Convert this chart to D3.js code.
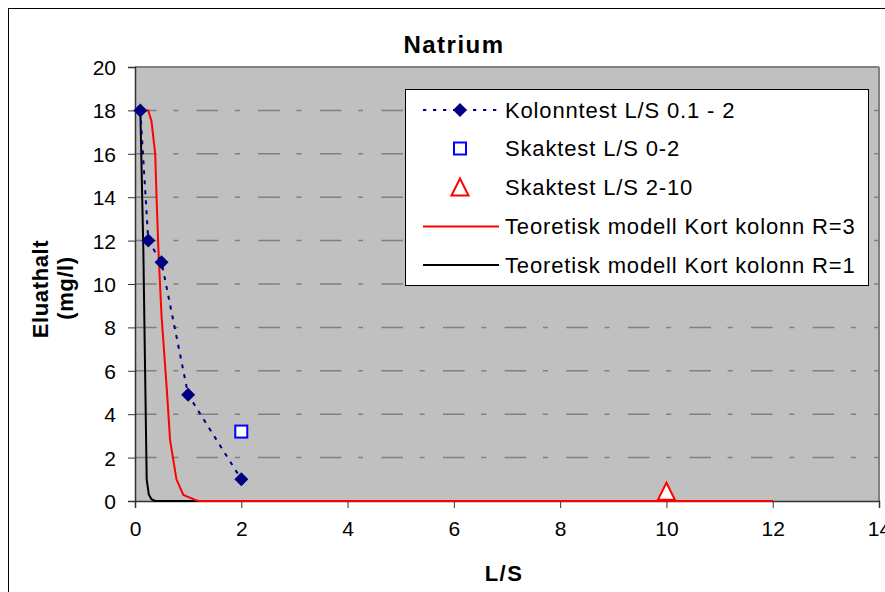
<!DOCTYPE html>
<html><head><meta charset="utf-8">
<script src="https://cdn.jsdelivr.net/npm/d3@7"></script>
<style>
html,body{margin:0;padding:0;background:#fff;}
svg{display:block;font-family:"Liberation Sans",Arial,sans-serif;}
</style></head>
<body>
<svg id="chart" width="885" height="592"></svg>
<script>
// ---- data ----
const title = "Natrium";
const xTicks = [0, 2, 4, 6, 8, 10, 12, 14];
const yTicks = [0, 2, 4, 6, 8, 10, 12, 14, 16, 18, 20];
const kolonnX = [0.1, 0.25, 0.5, 1, 2];
const kolonnY = [18, 12, 11, 4.9, 1];
const skak02X = [2];
const skak02Y = [3.2];
const skak210X = [10];
const skak210Y = [0.45];
const modelR3X = [0.1, 0.25, 0.31, 0.38, 0.41, 0.44, 0.5, 0.6, 0.66, 0.78, 0.91, 1.13, 1.2, 12];
const modelR3Y = [18, 18, 17.5, 16, 13.7, 11.6, 8.5, 5.1, 2.8, 1.0, 0.28, 0.05, 0, 0];
const modelR1X = [0.1, 0.13, 0.157, 0.19, 0.22, 0.26, 0.31, 0.38, 12];
const modelR1Y = [18, 14.6, 11.6, 6, 1.0, 0.3, 0.08, 0, 0];
const legendLabels = ["Kolonntest L/S 0.1 - 2", "Skaktest L/S 0-2", "Skaktest L/S 2-10",
  "Teoretisk modell Kort kolonn R=3", "Teoretisk modell Kort kolonn R=1"];
const xTitle = "L/S";
const yTitleLines = ["Eluathalt", "(mg/l)"];

const svg = d3.select("#chart");
const L = 135, R = 879, T = 67, B = 501;
const x = d3.scaleLinear().domain([0, 14]).range([L, R]);
const y = d3.scaleLinear().domain([0, 20]).range([B, T]);

svg.append("rect").attr("width", 885).attr("height", 592).attr("fill", "#fff");
svg.append("rect").attr("x", 8.5).attr("y", 8.5).attr("width", 900).attr("height", 600)
  .attr("fill", "none").attr("stroke", "#000").attr("stroke-width", 1);

// plot background
svg.append("rect").attr("x", L).attr("y", T).attr("width", R - L).attr("height", B - T).attr("fill", "#C0C0C0");

// gridlines
svg.append("g").selectAll("line").data(yTicks.filter(d => d > 0 && d < 20)).join("line")
  .attr("x1", L).attr("x2", R).attr("y1", d => y(d)).attr("y2", d => y(d))
  .attr("stroke", "#808080").attr("stroke-width", 1.5)
  .attr("stroke-dasharray", "21.6,16.7,5,18.3");

// top & right border
svg.append("line").attr("x1", L).attr("x2", R).attr("y1", T).attr("y2", T).attr("stroke", "#808080").attr("stroke-width", 2);
svg.append("line").attr("x1", R).attr("x2", R).attr("y1", T).attr("y2", B).attr("stroke", "#808080").attr("stroke-width", 2);

// axes
const yAxis = d3.axisLeft(y).tickValues(yTicks).tickSize(7).tickPadding(12);
const gy = svg.append("g").attr("transform", `translate(${L},0)`).call(yAxis);
const xAxis = d3.axisBottom(x).tickValues(xTicks).tickSize(7).tickPadding(13);
const gx = svg.append("g").attr("transform", `translate(0,${B})`).call(xAxis);
[gx, gy].forEach(g => {
  g.select(".domain").attr("stroke", "#333").attr("stroke-width", 1.5);
  g.selectAll(".tick line").attr("stroke", "#333");
  g.selectAll("text").attr("font-size", 21).attr("fill", "#000").attr("font-family", "Liberation Sans, Arial, sans-serif");
});
gy.selectAll(".tick text").attr("dy", "0.36em");
gx.selectAll(".tick text").attr("dy", "0.71em");

// clip
svg.append("clipPath").attr("id", "clip").append("rect").attr("x", L - 10).attr("y", T - 10).attr("width", R - L + 20).attr("height", B - T + 20);
const plot = svg.append("g").attr("clip-path", "url(#clip)");

const line = d3.line().x(d => x(d[0])).y(d => y(d[1]));
const zip = (a, b) => a.map((v, i) => [v, b[i]]);

plot.append("path").datum(zip(modelR1X, modelR1Y)).attr("d", line)
  .attr("fill", "none").attr("stroke", "#000").attr("stroke-width", 2);
plot.append("path").datum(zip(modelR3X, modelR3Y)).attr("d", line)
  .attr("fill", "none").attr("stroke", "#FF0000").attr("stroke-width", 2);
plot.append("path").datum(zip(kolonnX, kolonnY)).attr("d", line)
  .attr("fill", "none").attr("stroke", "#000080").attr("stroke-width", 2).attr("stroke-dasharray", "4,6");

const diamond = "M0,-7L7,0L0,7L-7,0Z";
const tri = "M0,-8.5L8.5,8.5L-8.5,8.5Z";
plot.selectAll(".dia").data(zip(kolonnX, kolonnY)).join("path").attr("class", "dia")
  .attr("transform", d => `translate(${x(d[0])},${y(d[1])})`).attr("d", diamond).attr("fill", "#000080");
plot.selectAll(".sq").data(zip(skak02X, skak02Y)).join("rect").attr("class", "sq")
  .attr("x", d => x(d[0]) - 6).attr("y", d => y(d[1]) - 6).attr("width", 12).attr("height", 12)
  .attr("fill", "#fff").attr("stroke", "#0000FF").attr("stroke-width", 2);
plot.selectAll(".tri").data(zip(skak210X, skak210Y)).join("path").attr("class", "tri")
  .attr("transform", d => `translate(${x(d[0])},${y(d[1])})`).attr("d", tri)
  .attr("fill", "#fff").attr("stroke", "#FF0000").attr("stroke-width", 2);

// legend
const lg = svg.append("g");
lg.append("rect").attr("x", 405.5).attr("y", 89.5).attr("width", 463).attr("height", 196)
  .attr("fill", "#fff").attr("stroke", "#000").attr("stroke-width", 1);
const rowsY = [110, 148.5, 187, 226.5, 265];
const ls = 423, le = 499, lm = 460;
lg.append("line").attr("x1", ls).attr("x2", le).attr("y1", rowsY[0]).attr("y2", rowsY[0])
  .attr("stroke", "#000080").attr("stroke-width", 2).attr("stroke-dasharray", "3.3,6.7");
lg.append("path").attr("transform", `translate(${lm},${rowsY[0]})`).attr("d", diamond).attr("fill", "#000080");
lg.append("rect").attr("x", lm - 6).attr("y", rowsY[1] - 6).attr("width", 12).attr("height", 12)
  .attr("fill", "#fff").attr("stroke", "#0000FF").attr("stroke-width", 2);
lg.append("path").attr("transform", `translate(${lm},${rowsY[2]})`).attr("d", tri)
  .attr("fill", "#fff").attr("stroke", "#FF0000").attr("stroke-width", 2);
lg.append("line").attr("x1", ls).attr("x2", le).attr("y1", rowsY[3]).attr("y2", rowsY[3])
  .attr("stroke", "#FF0000").attr("stroke-width", 2);
lg.append("line").attr("x1", ls).attr("x2", le).attr("y1", rowsY[4]).attr("y2", rowsY[4])
  .attr("stroke", "#000").attr("stroke-width", 2);
lg.selectAll("text").data(legendLabels).join("text")
  .attr("x", 505).attr("y", (d, i) => rowsY[i] + 7.8)
  .attr("font-size", 22).attr("letter-spacing", 0.85).attr("fill", "#000").text(d => d);

// titles
svg.append("text").attr("x", 454).attr("y", 53).attr("text-anchor", "middle")
  .attr("font-size", 24).attr("font-weight", "bold").attr("letter-spacing", 1.5).text(title);
svg.append("text").attr("x", 504).attr("y", 581).attr("text-anchor", "middle")
  .attr("font-size", 22).attr("font-weight", "bold").attr("letter-spacing", 1.5).text(xTitle);
const yt = svg.append("g");
yt.append("text").attr("transform", "translate(48,289) rotate(-90)").attr("text-anchor", "middle")
  .attr("font-size", 22).attr("font-weight", "bold").attr("letter-spacing", 0.6).text(yTitleLines[0]);
yt.append("text").attr("transform", "translate(73,288) rotate(-90)").attr("text-anchor", "middle")
  .attr("font-size", 22).attr("font-weight", "bold").attr("letter-spacing", 0.6).text(yTitleLines[1]);
</script>
</body></html>
